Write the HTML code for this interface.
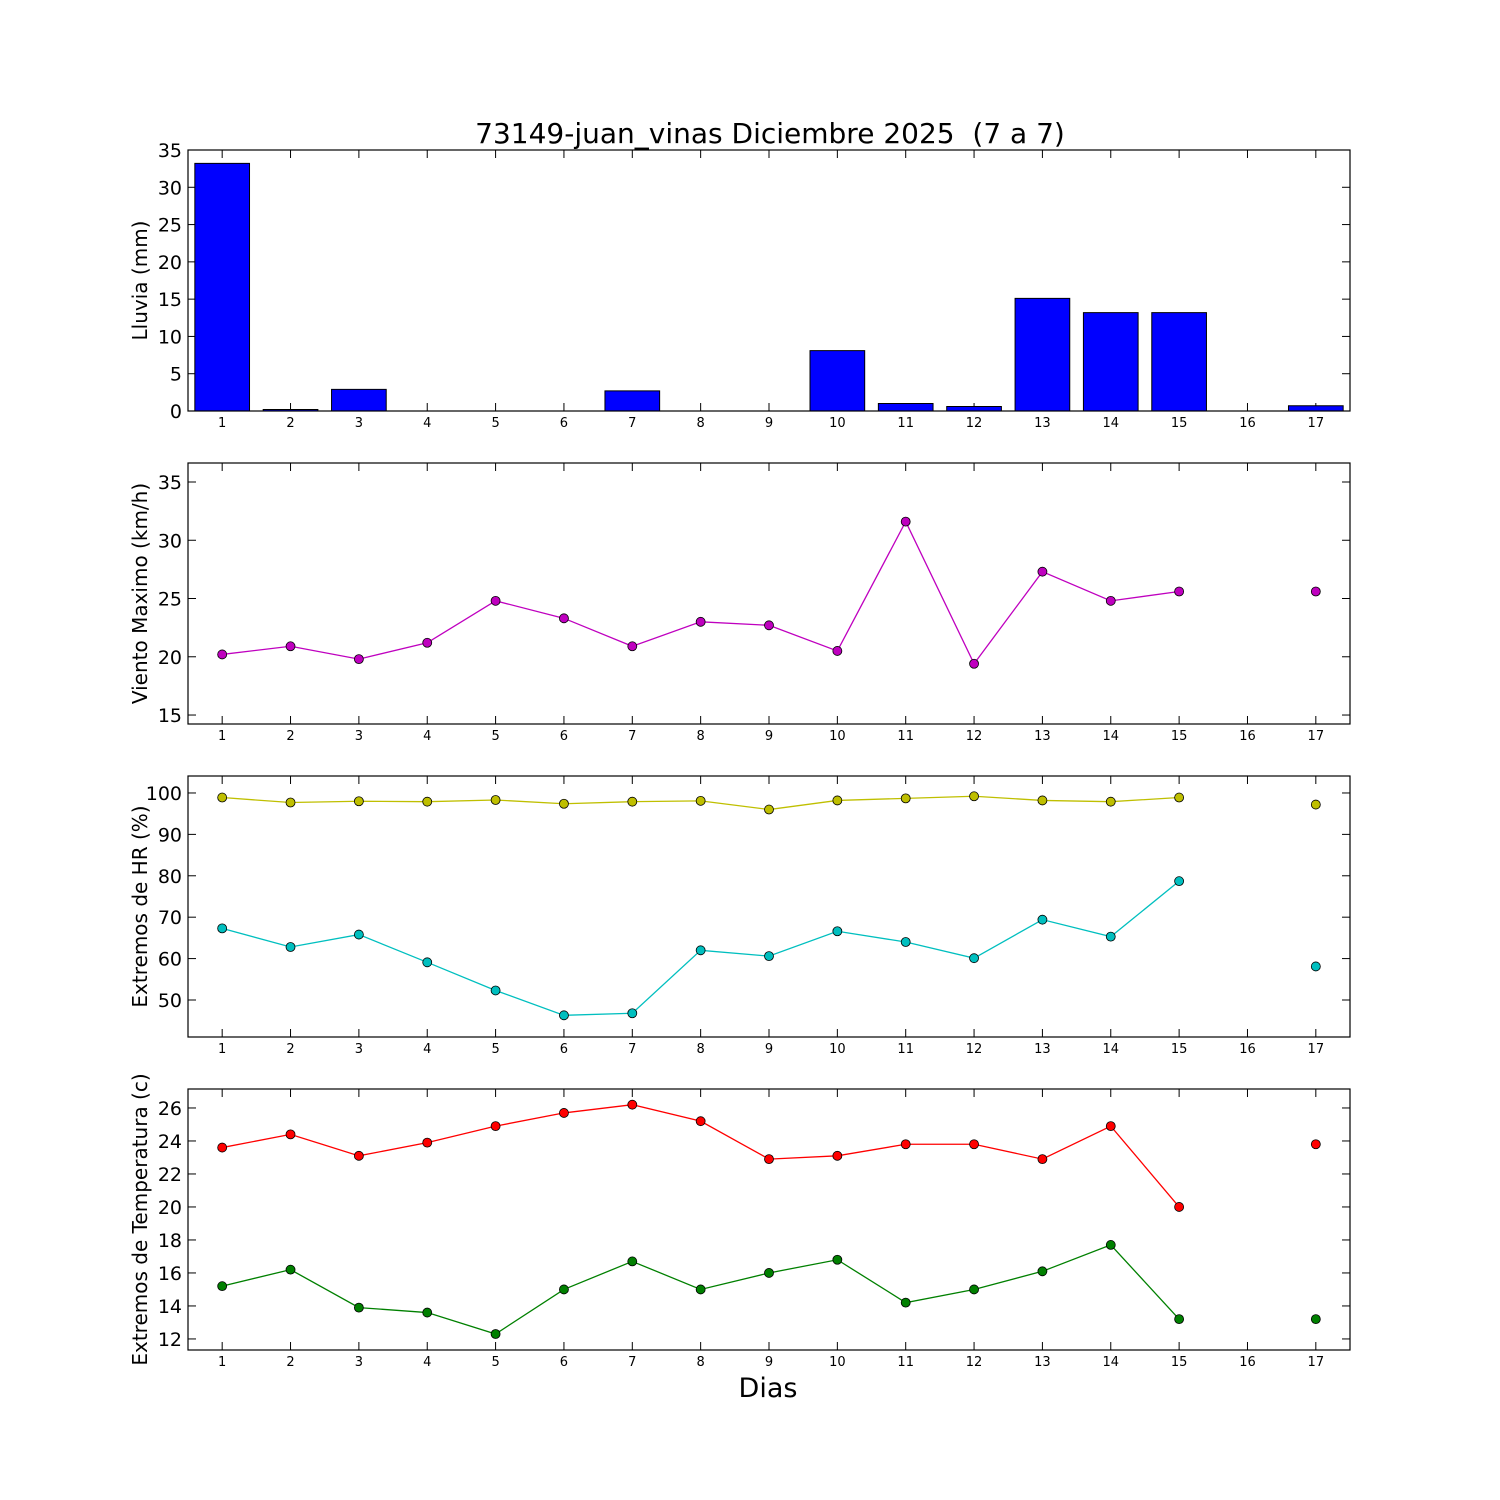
<!DOCTYPE html>
<html><head><meta charset="utf-8"><style>body{margin:0;background:#fff}svg{display:block}</style></head>
<body>
<svg id="c" width="1500" height="1500" xmlns="http://www.w3.org/2000/svg" font-family="'DejaVu Sans', 'Liberation Sans', sans-serif"></svg>
<script>
const days = [1,2,3,4,5,6,7,8,9,10,11,12,13,14,15,16,17];
const rain = [33.2,0.2,2.9,0,0,0,2.7,0,0,8.1,1.0,0.6,15.1,13.2,13.2,0,0.7];
const wind = [20.2,20.9,19.8,21.2,24.8,23.3,20.9,23.0,22.7,20.5,31.6,19.4,27.3,24.8,25.6,null,25.6];
const hrMax = [98.9,97.7,98.0,97.9,98.3,97.4,97.9,98.1,96.0,98.2,98.7,99.2,98.2,97.9,98.9,null,97.2];
const hrMin = [67.3,62.8,65.8,59.1,52.3,46.3,46.8,62.0,60.6,66.6,64.0,60.1,69.4,65.3,78.7,null,58.1];
const tMax = [23.6,24.4,23.1,23.9,24.9,25.7,26.2,25.2,22.9,23.1,23.8,23.8,22.9,24.9,20.0,null,23.8];
const tMin = [15.2,16.2,13.9,13.6,12.3,15.0,16.7,15.0,16.0,16.8,14.2,15.0,16.1,17.7,13.2,null,13.2];
const rainTicks = [0,5,10,15,20,25,30,35];
const windTicks = [15,20,25,30,35];
const hrTicks = [50,60,70,80,90,100];
const tTicks = [12,14,16,18,20,22,24,26];

const svg = document.getElementById('c');
const NS = 'http://www.w3.org/2000/svg';
function mk(tag, attrs, parent){const e=document.createElementNS(NS,tag);for(const k in attrs)e.setAttribute(k,attrs[k]);(parent||svg).appendChild(e);return e;}
const X0=188,X1=1350;
const xs = d => X0 + (d-0.5)/17*(X1-X0);

function panel(name, top, bot, ymin, ymax, ticks, label){
  const g = mk('g',{});
  
  
  const ys = v => bot - (v-ymin)/(ymax-ymin)*(bot-top);
  ticks.forEach(t=>{
    const y=ys(t);
    mk('line',{x1:X0,x2:X0+8,y1:y,y2:y,stroke:'#000'},g);
    mk('line',{x1:X1-8,x2:X1,y1:y,y2:y,stroke:'#000'},g);
    const tx=mk('text',{x:X0-6,y:y+7,'text-anchor':'end','font-size':19},g);
    tx.textContent=t;
    
    
  });
  days.forEach(d=>{
    const x=xs(d);
    mk('line',{x1:x,x2:x,y1:bot,y2:bot-8,stroke:'#000'},g);
    mk('line',{x1:x,x2:x,y1:top,y2:top+8,stroke:'#000'},g);
    const tx=mk('text',{x:x,y:bot+16,'text-anchor':'middle','font-size':13},g);
    tx.textContent=d;
    
    
  });
  const yl=mk('text',{x:0,y:0,'text-anchor':'middle','font-size':20,transform:`translate(147,${(top+bot)/2}) rotate(-90)`},g);
  yl.textContent=label;
  
  
  return {g,ys,top,bot};
}
function frame(p){mk('rect',{x:X0,y:p.top,width:X1-X0,height:p.bot-p.top,fill:'none',stroke:'#000','stroke-width':1.2},p.g);}
function series(p, vals, color, name){
  let seg=[];
  const segs=[];
  vals.forEach((v,i)=>{ if(v===null){ if(seg.length)segs.push(seg); seg=[]; } else seg.push([xs(days[i]),p.ys(v)]); });
  if(seg.length)segs.push(seg);
  segs.forEach(s=>{ if(s.length>1){const l=mk('polyline',{points:s.map(q=>q.join(',')).join(' '),fill:'none',stroke:color,'stroke-width':1.3},p.g);
    
    }});
  vals.forEach((v,i)=>{ if(v===null)return;
    const c=mk('circle',{cx:xs(days[i]),cy:p.ys(v),r:4.5,fill:color,stroke:'#000','stroke-width':0.8},p.g);
    
    
  });
}

const title=mk('text',{x:770,y:143,'text-anchor':'middle','font-size':28});
title.setAttribute('xml:space','preserve');
title.style.whiteSpace='pre';
title.textContent='73149-juan_vinas Diciembre 2025  (7 a 7)';



const p1=panel('rain-panel',150,411,0,35,rainTicks,'Lluvia (mm)');
rain.forEach((v,i)=>{
  const w=0.8/17*(X1-X0);
  const y=p1.ys(v);
  const x=xs(days[i])-w/2;
  const b=mk('path',{d:`M${x},${p1.bot} L${x},${y} L${x+w},${y} L${x+w},${p1.bot} Z`,fill:'#0000ff',stroke:'#000','stroke-width':1},p1.g);
  
  
});
frame(p1);

const p2=panel('wind-panel',463,724,14.23,36.63,windTicks,'Viento Maximo (km/h)');
series(p2,wind,'#bf00bf','wind'); frame(p2);

const p3=panel('humidity-panel',776,1037,41.06,104.1,hrTicks,'Extremos de HR (%)');
series(p3,hrMax,'#bfbf00','hr-max'); series(p3,hrMin,'#00bfbf','hr-min'); frame(p3);

const p4=panel('temperature-panel',1089,1350,11.33,27.15,tTicks,'Extremos de Temperatura (c)');
series(p4,tMax,'#ff0000','temp-max'); series(p4,tMin,'#008000','temp-min'); frame(p4);

const xl=mk('text',{x:768,y:1397,'text-anchor':'middle','font-size':27});
xl.textContent='Dias';


</script>
</body></html>
